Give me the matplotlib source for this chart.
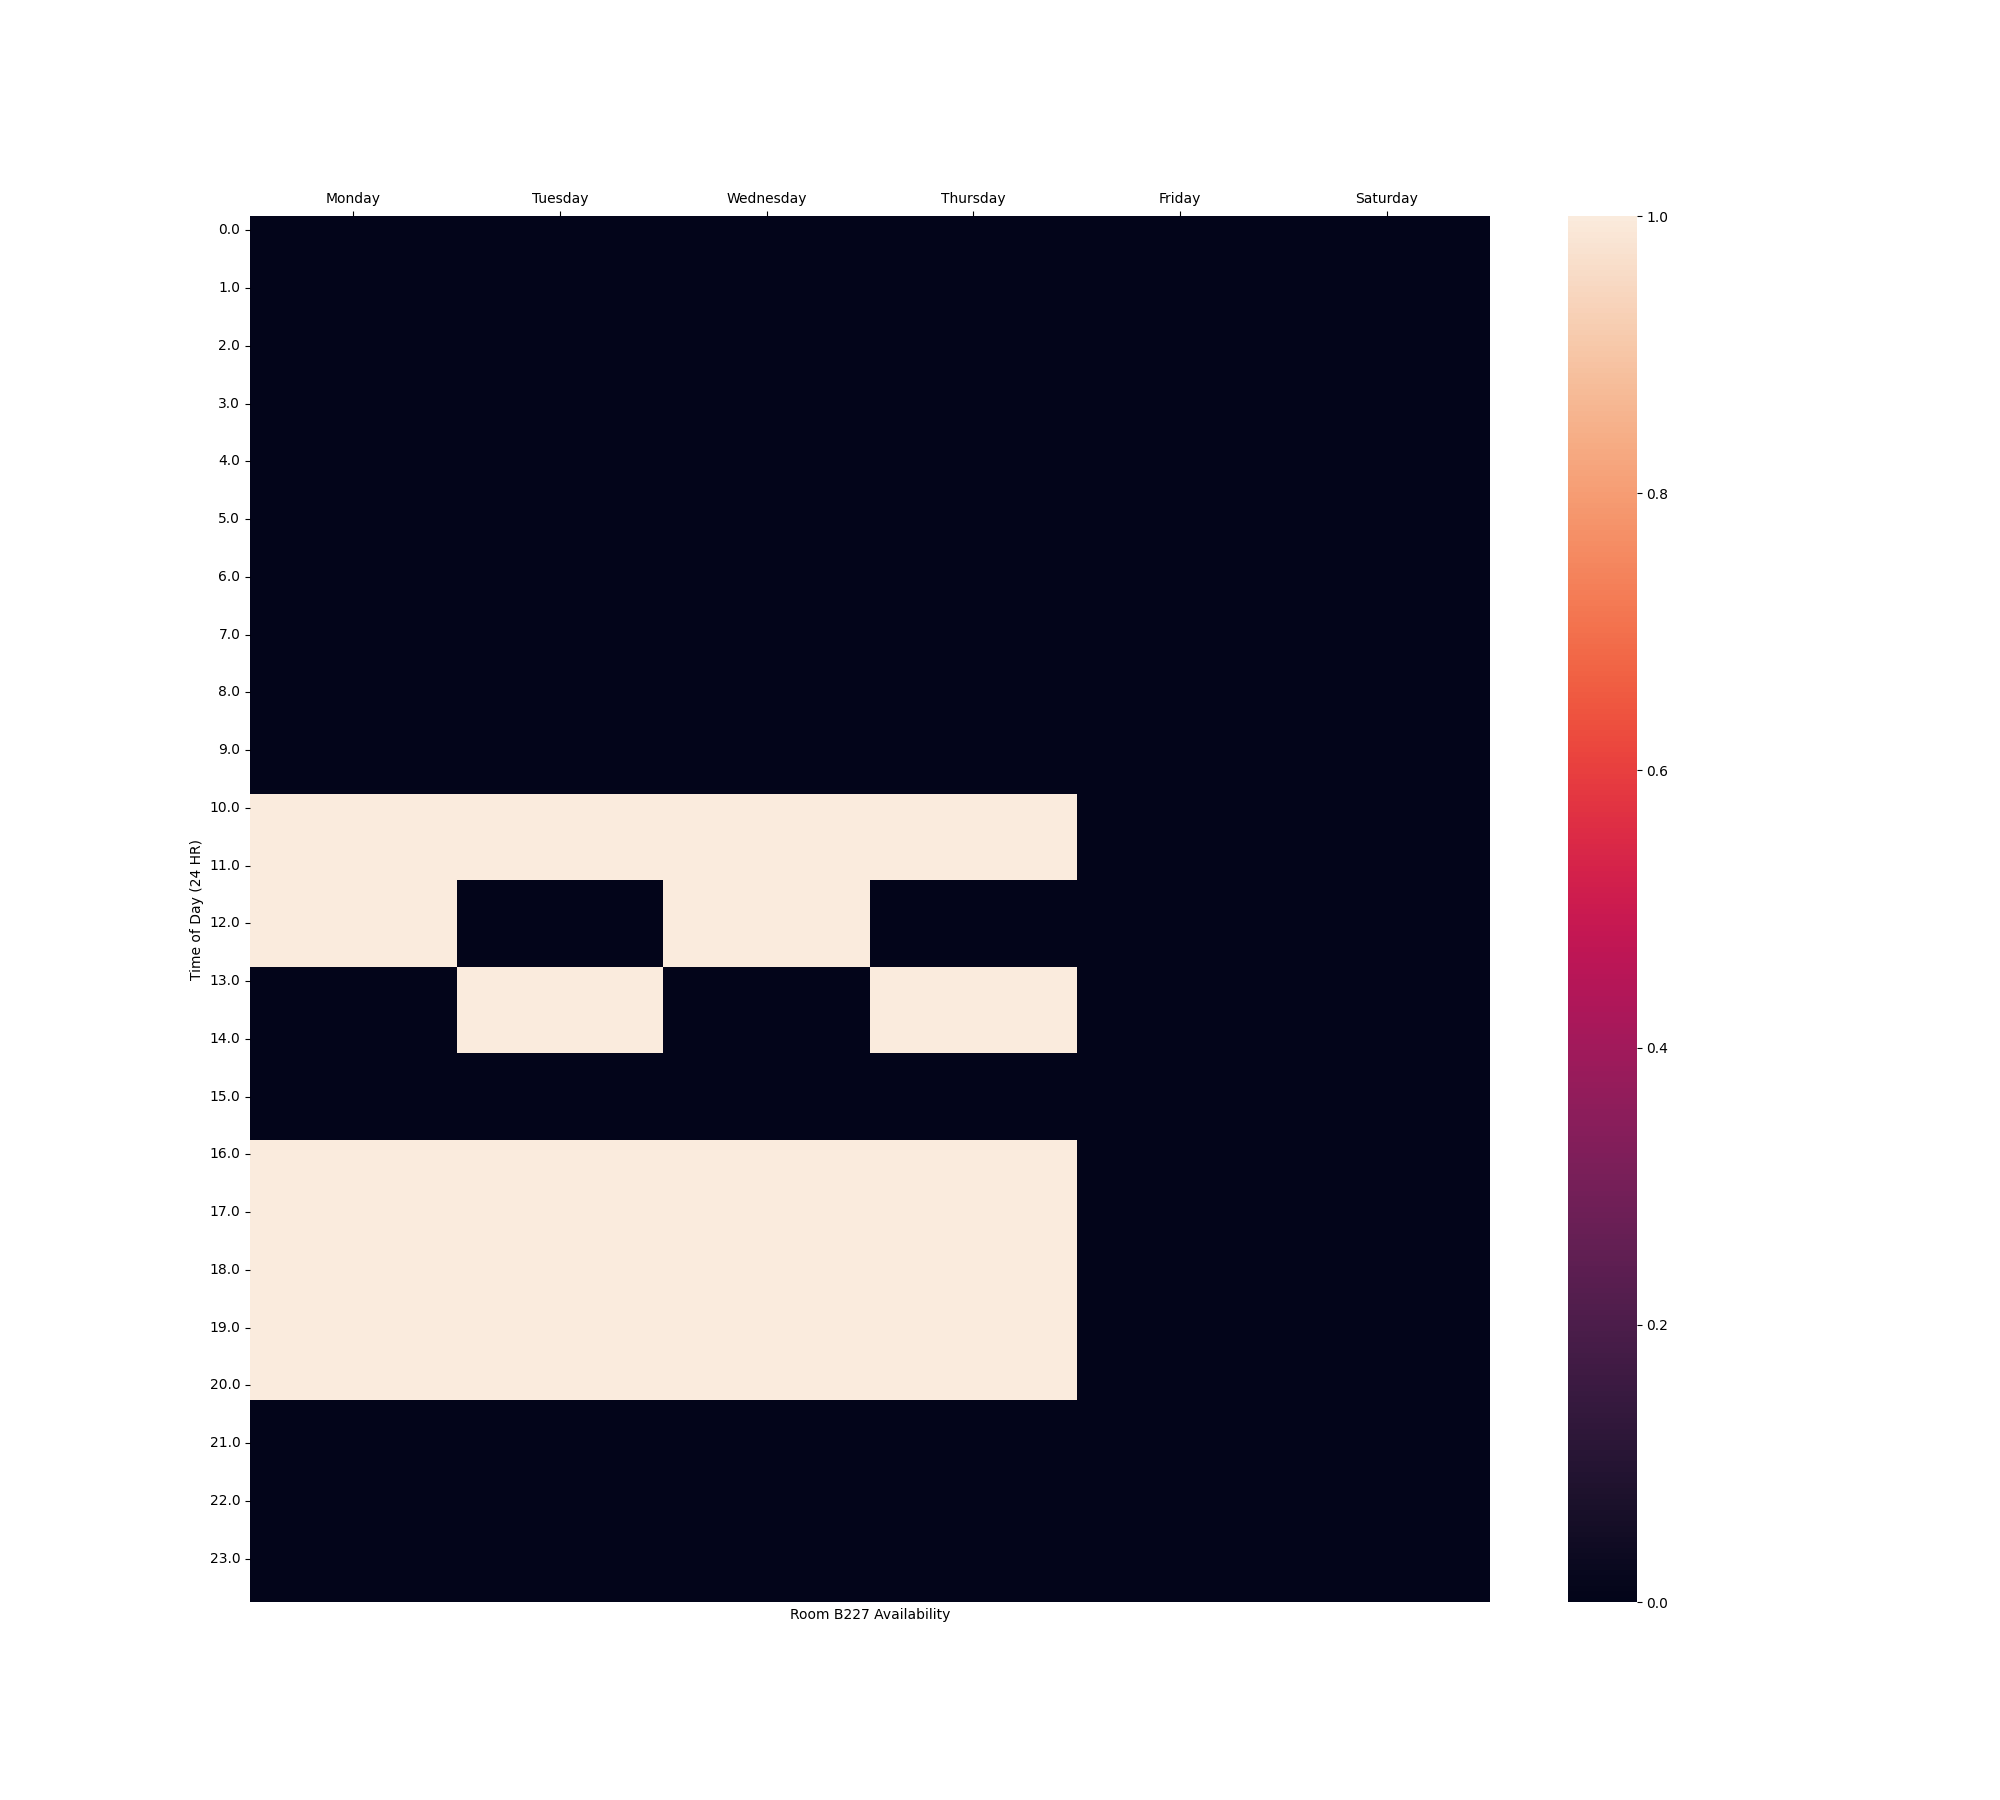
import matplotlib
matplotlib.use("Agg")
import matplotlib.pyplot as plt
import seaborn as sns
import pandas as pd

days = ["Monday", "Tuesday", "Wednesday", "Thursday", "Friday", "Saturday"]
times = [0.0, 0.5, 1.0, 1.5, 2.0, 2.5, 3.0, 3.5, 4.0, 4.5, 5.0, 5.5,
         6.0, 6.5, 7.0, 7.5, 8.0, 8.5, 9.0, 9.5, 10.0, 10.5, 11.0, 11.5,
         12.0, 12.5, 13.0, 13.5, 14.0, 14.5, 15.0, 15.5, 16.0, 16.5, 17.0, 17.5,
         18.0, 18.5, 19.0, 19.5, 20.0, 20.5, 21.0, 21.5, 22.0, 22.5, 23.0, 23.5]

monday = [0, 0, 0, 0, 0, 0, 0, 0, 0, 0, 0, 0,
          0, 0, 0, 0, 0, 0, 0, 0, 1, 1, 1, 1,
          1, 1, 0, 0, 0, 0, 0, 0, 1, 1, 1, 1,
          1, 1, 1, 1, 1, 0, 0, 0, 0, 0, 0, 0]
tuesday = [0, 0, 0, 0, 0, 0, 0, 0, 0, 0, 0, 0,
           0, 0, 0, 0, 0, 0, 0, 0, 1, 1, 1, 0,
           0, 0, 1, 1, 1, 0, 0, 0, 1, 1, 1, 1,
           1, 1, 1, 1, 1, 0, 0, 0, 0, 0, 0, 0]
wednesday = [0, 0, 0, 0, 0, 0, 0, 0, 0, 0, 0, 0,
             0, 0, 0, 0, 0, 0, 0, 0, 1, 1, 1, 1,
             1, 1, 0, 0, 0, 0, 0, 0, 1, 1, 1, 1,
             1, 1, 1, 1, 1, 0, 0, 0, 0, 0, 0, 0]
thursday = [0, 0, 0, 0, 0, 0, 0, 0, 0, 0, 0, 0,
            0, 0, 0, 0, 0, 0, 0, 0, 1, 1, 1, 0,
            0, 0, 1, 1, 1, 0, 0, 0, 1, 1, 1, 1,
            1, 1, 1, 1, 1, 0, 0, 0, 0, 0, 0, 0]
friday = [0] * 48
saturday = [0] * 48

df = pd.DataFrame({"Monday": monday, "Tuesday": tuesday, "Wednesday": wednesday,
                   "Thursday": thursday, "Friday": friday, "Saturday": saturday},
                  index=times)[days]

fig = plt.figure(figsize=(20, 18), dpi=100)
ax = sns.heatmap(df, yticklabels=2)
ax.xaxis.tick_top()
ax.tick_params(axis="y", labelrotation=0)
ax.set_xlabel("Room B227 Availability")
ax.set_ylabel("Time of Day (24 HR)")
fig.savefig("out.png", dpi=100)
